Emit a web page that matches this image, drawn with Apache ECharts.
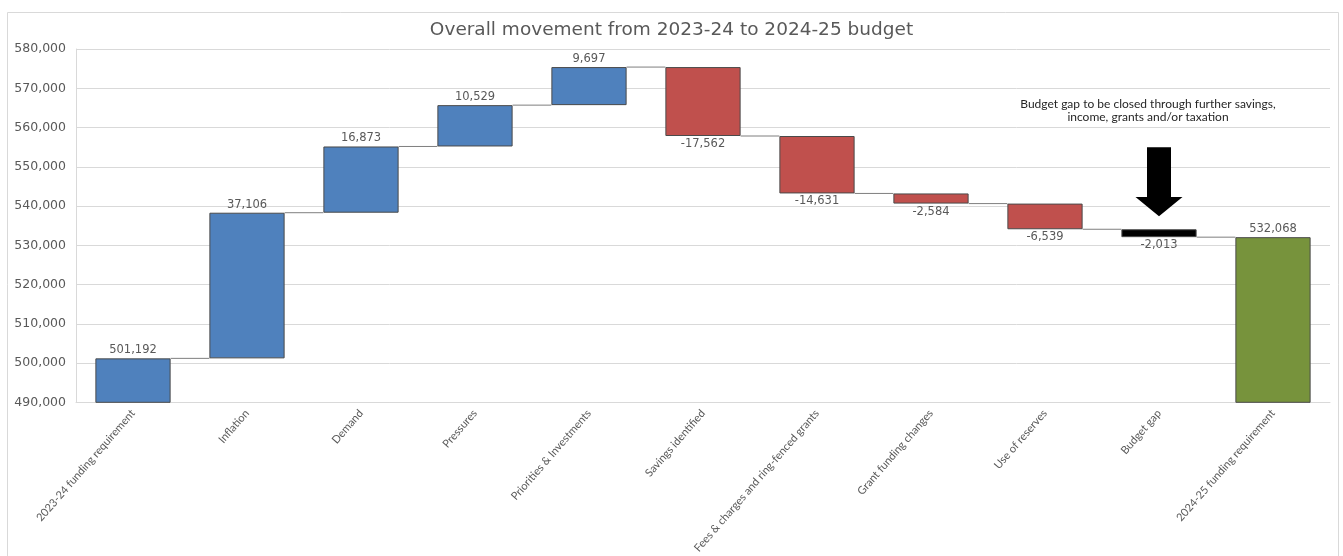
<!DOCTYPE html>
<html>
<head>
<meta charset="utf-8">
<script src="https://cdn.jsdelivr.net/npm/echarts@6/dist/echarts.min.js"></script>
<style>
  html, body { margin: 0; padding: 0; background: #ffffff; }
  #chart { width: 1343px; height: 556px; }
</style>
</head>
<body>
<div id="chart"></div>
<script>
// Budget movement steps, in £000s
const categories = [
  '2023-24 funding requirement',
  'Inflation',
  'Demand',
  'Pressures',
  'Priorities & Investments',
  'Savings identified',
  'Fees & charges and ring-fenced grants',
  'Grant funding changes',
  'Use of reserves',
  'Budget gap',
  '2024-25 funding requirement'
];
const changes = [501192, 37106, 16873, 10529, 9697, -17562, -14631, -2584, -6539, -2013, 532068];
const kinds = ['start', 'up', 'up', 'up', 'up', 'down', 'down', 'down', 'down', 'gap', 'end'];

// Value axis range and tick step
const yMin = 490000;
const yMax = 580000;
const yStep = 10000;

// Annotation arrow above the budget gap bar (value-axis positions)
const arrowTopValue = 555000;
const arrowHeadValue = 542300;
const arrowTipValue = 537400;
const noteTopValue = 567600;
const noteText = 'Budget gap to be closed through further savings,\nincome, grants and/or taxation';

const colours = { start: '#4F81BD', up: '#4F81BD', down: '#C0504D', gap: '#000000', end: '#77933C' };
const FONT = 'Lato, sans-serif';
const WIDE_FONT = '"DejaVu Sans", sans-serif';
const BAR_RATIO = 0.66;

// Build stacked waterfall pieces: invisible base + visible step
const baseVals = [];
const stepVals = [];
const runEnds = [];
let running = 0;
changes.forEach((c, i) => {
  if (kinds[i] === 'start' || kinds[i] === 'end') {
    running = c;
    baseVals.push(0);
    stepVals.push(c);
  } else {
    const prev = running;
    running = prev + c;
    baseVals.push(Math.min(prev, running));
    stepVals.push(Math.abs(c));
  }
  runEnds.push(running);
});

const fmt = v => v.toLocaleString('en-US');

const stepData = stepVals.map((v, i) => ({
  value: v,
  itemStyle: { color: colours[kinds[i]] },
  label: {
    position: (kinds[i] === 'down' || kinds[i] === 'gap') ? 'bottom' : 'top',
    formatter: () => fmt(changes[i])
  }
}));

const connectorData = runEnds.slice(0, -1).map((v, i) => [i, v]);

const chart = echarts.init(document.getElementById('chart'), null, { renderer: 'canvas' });

chart.setOption({
  animation: false,
  backgroundColor: '#ffffff',
  title: {
    text: 'Overall movement from 2023-24 to 2024-25 budget',
    left: 'center',
    top: 16,
    textStyle: { fontFamily: WIDE_FONT, fontSize: 18.5, fontWeight: 'normal', color: '#595959' }
  },
  grid: { left: 76, right: 13, top: 49, bottom: 152, containLabel: false },
  xAxis: {
    type: 'category',
    data: categories,
    axisLine: { show: true, lineStyle: { color: '#d9d9d9' } },
    axisTick: { show: false },
    axisLabel: {
      interval: 0,
      rotate: 49,
      margin: 9,
      fontFamily: FONT,
      fontSize: 11,
      color: '#595959'
    }
  },
  yAxis: {
    type: 'value',
    min: yMin,
    max: yMax,
    interval: yStep,
    axisLine: { show: true, lineStyle: { color: '#d9d9d9' } },
    axisTick: { show: false },
    splitLine: { lineStyle: { color: '#d9d9d9' } },
    axisLabel: {
      margin: 10,
      fontFamily: WIDE_FONT,
      fontSize: 12.5,
      color: '#595959',
      formatter: v => fmt(v)
    }
  },
  series: [
    {
      name: 'base',
      type: 'bar',
      stack: 'waterfall',
      barWidth: (BAR_RATIO * 100) + '%',
      itemStyle: { color: 'transparent', borderColor: 'transparent' },
      emphasis: { disabled: true },
      data: baseVals,
      silent: true
    },
    {
      name: 'step',
      type: 'bar',
      stack: 'waterfall',
      barWidth: (BAR_RATIO * 100) + '%',
      itemStyle: { borderColor: '#4a4a4a', borderWidth: 1 },
      label: {
        show: true,
        distance: 2,
        fontFamily: WIDE_FONT,
        fontSize: 11.5,
        color: '#595959'
      },
      data: stepData
    },
    {
      name: 'connector',
      type: 'custom',
      silent: true,
      z: 1,
      renderItem: (params, api) => {
        const i = api.value(0);
        const v = api.value(1);
        const p0 = api.coord([i, v]);
        const p1 = api.coord([i + 1, v]);
        const half = api.size([1, 0])[0] * BAR_RATIO / 2;
        return {
          type: 'line',
          shape: { x1: p0[0] + half, y1: p0[1], x2: p1[0] - half, y2: p1[1] },
          style: { stroke: '#7f7f7f', lineWidth: 1 }
        };
      },
      data: connectorData
    }
  ]
});

// Frame, arrow and note placed through the chart's own axes
const gapIdx = kinds.indexOf('gap');
const cx = chart.convertToPixel({ xAxisIndex: 0 }, categories[gapIdx]);
const yTop = chart.convertToPixel({ yAxisIndex: 0 }, arrowTopValue);
const yHead = chart.convertToPixel({ yAxisIndex: 0 }, arrowHeadValue);
const yTip = chart.convertToPixel({ yAxisIndex: 0 }, arrowTipValue);
const yNote = chart.convertToPixel({ yAxisIndex: 0 }, noteTopValue);
const shaftHalf = 12;
const headHalf = 23.5;

chart.setOption({
  graphic: [
    {
      type: 'rect',
      silent: true,
      shape: { x: 7.5, y: 12.5, width: 1331, height: 560 },
      style: { fill: 'none', stroke: '#d9d9d9', lineWidth: 1 },
      z: 0
    },
    {
      type: 'polygon',
      silent: true,
      shape: {
        points: [
          [cx - shaftHalf, yTop], [cx + shaftHalf, yTop], [cx + shaftHalf, yHead],
          [cx + headHalf, yHead], [cx, yTip], [cx - headHalf, yHead], [cx - shaftHalf, yHead]
        ]
      },
      style: { fill: '#000000' },
      z: 10
    },
    {
      type: 'text',
      silent: true,
      x: cx - 11,
      y: yNote,
      style: {
        text: noteText,
        align: 'center',
        verticalAlign: 'top',
        fontFamily: FONT,
        fontSize: 12,
        lineHeight: 13,
        fill: '#262626'
      },
      z: 10
    }
  ]
});
</script>
</body>
</html>
